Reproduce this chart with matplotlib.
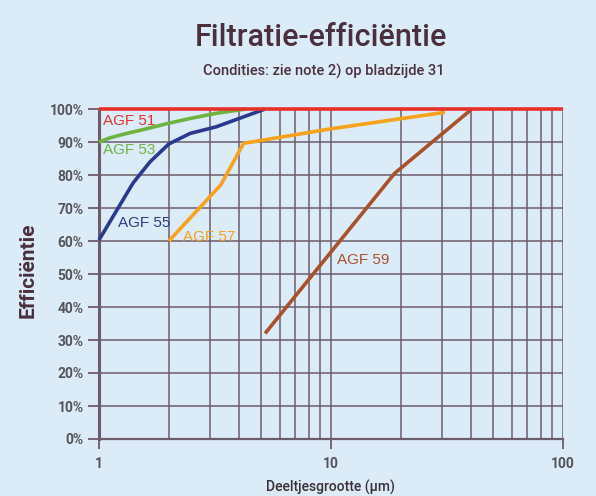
import matplotlib
matplotlib.use("Agg")
import matplotlib.pyplot as plt
from matplotlib.ticker import FixedLocator, NullLocator

# ---- data ----
agf53_x = [1, 1.12, 1.3, 1.6, 2, 2.5, 3.2, 4.3]
agf53_y = [90, 91.3, 92.5, 94, 95.7, 97.2, 98.7, 100]
agf55_x = [1, 1.4, 1.66, 2, 2.47, 3.2, 5.2]
agf55_y = [60.3, 77.5, 84, 89.4, 92.6, 94.6, 100]
agf57_x = [2, 3.35, 4.2, 10, 31]
agf57_y = [60, 77, 89.6, 94, 99]
agf59_x = [5.2, 18.8, 40.5]
agf59_y = [32, 80.5, 100]
agf51_x = [1, 100]
agf51_y = [100, 100]

y_ticks = [0, 10, 20, 30, 40, 50, 60, 70, 80, 90, 100]
x_ticks = [1, 10, 100]
x_grid = [2, 3, 4, 5, 6, 7, 8, 9, 10, 20, 30, 40, 50, 60, 70, 80, 90, 100]

series_labels = ["AGF 51", "AGF 53", "AGF 55", "AGF 57", "AGF 59"]
label_pos = [(1.04, 96.4), (1.04, 87.6), (1.21, 65.5), (2.30, 61.3), (10.6, 54.2)]

# ---- style ----
bg = "#dcebf8"
grid_c = "#6e5c6a"
tick_c = "#55545a"
title_c = "#4a2f3d"
colors = {"AGF 51": "#e8302a", "AGF 53": "#6db33f", "AGF 55": "#2b3990",
          "AGF 57": "#f7a21b", "AGF 59": "#a8522a"}
font = ["Roboto", "DejaVu Sans"]
lab_font = ["Liberation Sans", "DejaVu Sans"]

fig = plt.figure(figsize=(5.96, 4.96), dpi=100, facecolor=bg)
ax = fig.add_axes([99/596, 1-439/496, 464/596, 330/496])
ax.set_facecolor(bg)
ax.set_xscale("log")
ax.set_xlim(1, 100)
ax.set_ylim(0, 100)

for xv in x_grid:
    ax.axvline(xv, color=grid_c, lw=1.1, zorder=1)
for yv in y_ticks[1:]:
    ax.axhline(yv, color=grid_c, lw=1.1, zorder=1)

for s in ["top", "right"]:
    ax.spines[s].set_visible(False)
ax.spines["left"].set_color(grid_c)
ax.spines["left"].set_linewidth(2.2)
ax.spines["bottom"].set_color(grid_c)
ax.spines["bottom"].set_linewidth(1.6)

ax.yaxis.set_major_locator(FixedLocator(y_ticks))
ax.set_yticklabels([f"{v}%" for v in y_ticks])
ax.xaxis.set_major_locator(FixedLocator(x_ticks))
ax.xaxis.set_minor_locator(NullLocator())
ax.set_xticklabels([str(v) for v in x_ticks])
ax.tick_params(axis="y", length=8, width=1.3, color=grid_c, pad=3,
               labelsize=10, labelcolor=tick_c)
ax.tick_params(axis="x", length=7, width=1.3, color=grid_c, pad=6,
               labelsize=10, labelcolor=tick_c)
for lab in ax.get_yticklabels() + ax.get_xticklabels():
    lab.set_family(font)
    lab.set_fontweight("bold")

lw = 2.6
ax.plot(agf53_x, agf53_y, color=colors["AGF 53"], lw=lw, zorder=3, clip_on=False, solid_capstyle="butt")
ax.plot(agf55_x, agf55_y, color=colors["AGF 55"], lw=lw, zorder=3, clip_on=False, solid_capstyle="butt")
ax.plot(agf57_x, agf57_y, color=colors["AGF 57"], lw=lw, zorder=3, clip_on=False, solid_capstyle="butt")
ax.plot(agf59_x, agf59_y, color=colors["AGF 59"], lw=lw, zorder=3, clip_on=False, solid_capstyle="butt")
ax.plot(agf51_x, agf51_y, color=colors["AGF 51"], lw=lw, zorder=4, clip_on=False, solid_capstyle="butt")

for name, (lx, ly) in zip(series_labels, label_pos):
    ax.text(lx, ly, name, color=colors[name], fontsize=11, family=lab_font,
            ha="left", va="center", zorder=5)

fig.text(321/596, 1-37/496, "Filtratie-efficiëntie", ha="center", va="center",
         fontsize=22, family=font, fontweight="medium", color=title_c)
fig.text(324/596, 1-71/496, "Condities: zie note 2) op bladzijde 31", ha="center",
         va="center", fontsize=10.5, family=font, fontweight="medium", color=title_c)
fig.text(28/596, 1-270/496, "Efficiëntie", ha="center", va="center", rotation=90,
         fontsize=15, family=font, fontweight="bold", color=title_c)
fig.text(330/596, 1-487/496, "Deeltjesgrootte (µm)", ha="center", va="center",
         fontsize=10, family=font, fontweight="medium", color="#3a2f38")

fig.savefig("out.png", dpi=100, facecolor=bg)
